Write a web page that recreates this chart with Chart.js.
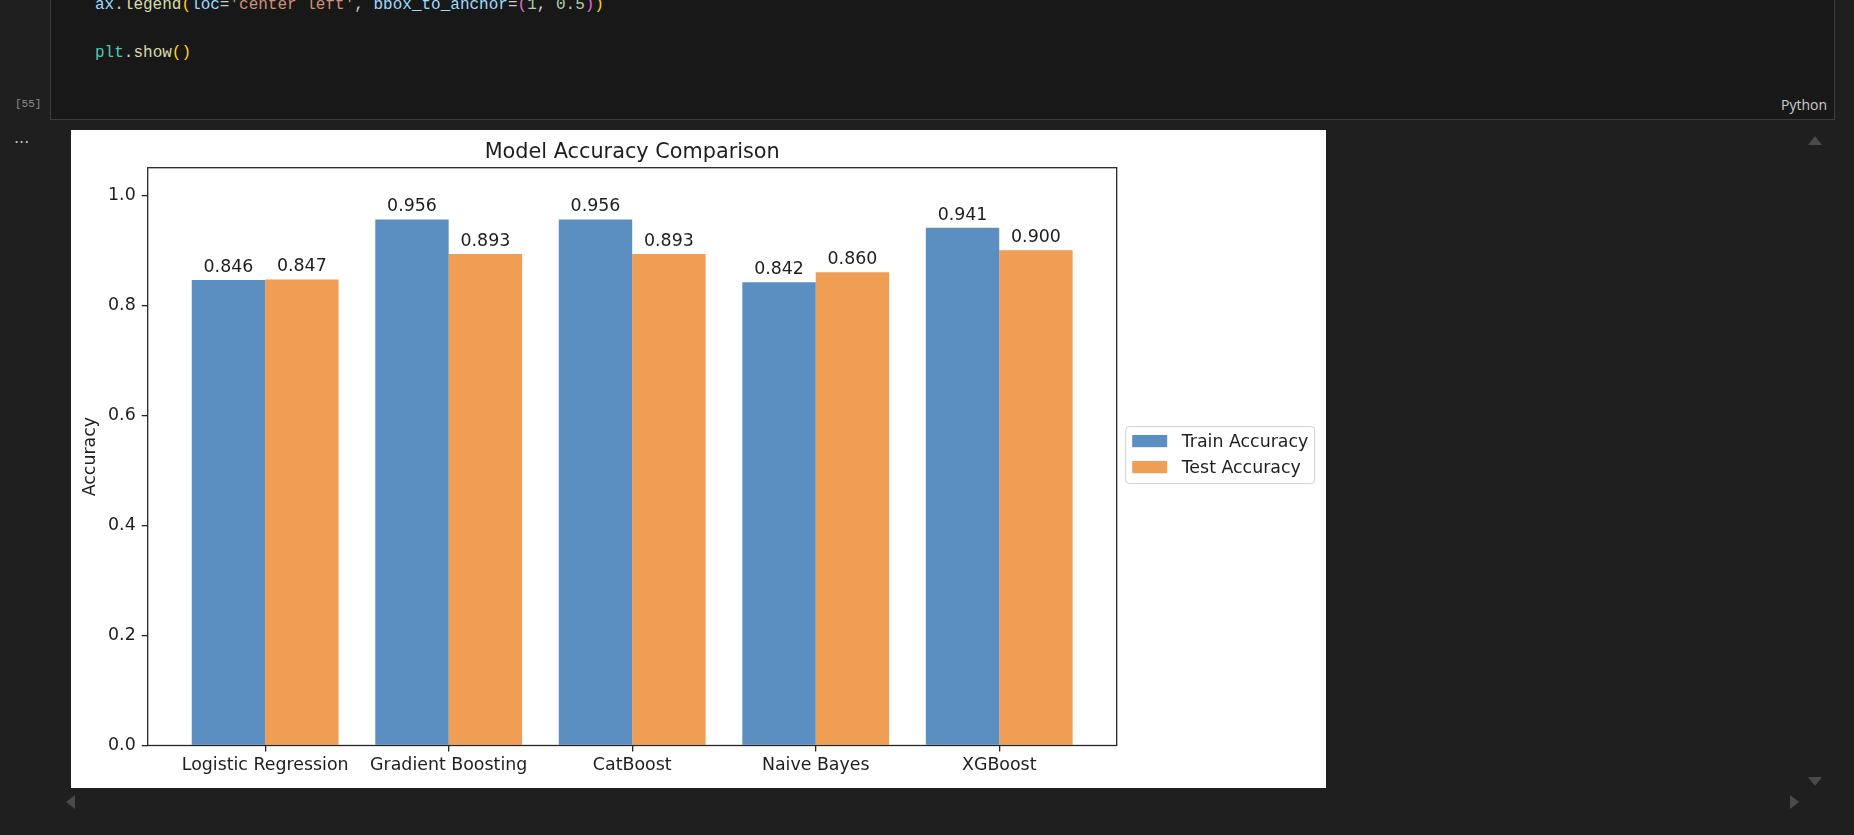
<!DOCTYPE html>
<html>
<head>
<meta charset="utf-8">
<script src="https://cdn.jsdelivr.net/npm/chart.js@4/dist/chart.umd.min.js"></script>
<style>
  html, body { margin: 0; padding: 0; }
  body { width: 1854px; height: 835px; background: #1f1f1f; position: relative; overflow: hidden; font-family: "DejaVu Sans", sans-serif; }
  .cell { position: absolute; left: 50px; top: -30px; width: 1783px; height: 148px; background: #181818; border: 1px solid #3b3b40; }
  .code { position: absolute; left: 95px; top: -7px; font: 16px "Liberation Mono", "DejaVu Sans Mono", monospace; line-height: 24px; white-space: pre; color: #cccccc; }
  .v { color: #9cdcfe; } .f { color: #dcdcaa; } .s { color: #ce9178; } .n { color: #b5cea8; }
  .m { color: #4ec9b0; } .b1 { color: #ffd700; } .b2 { color: #da70d6; }
  .count { position: absolute; left: 15px; top: 98px; font: 11px "Liberation Mono", monospace; color: #8c8c8c; }
  .dots { position: absolute; left: 14px; top: 128px; font: 16px "DejaVu Sans", sans-serif; color: #c5c5c5; }
  .lang { position: absolute; right: 27px; top: 95px; font: 14px "Open Sans", sans-serif; color: #cccccc; }
  .out { position: absolute; left: 71px; top: 130px; width: 1255px; height: 658px; background: #ffffff; }
  .tri { position: absolute; width: 0; height: 0; }
  .up { left: 1808px; top: 136px; border-left: 7px solid transparent; border-right: 7px solid transparent; border-bottom: 9px solid #4a4a4a; }
  .down { left: 1808px; top: 777px; border-left: 7px solid transparent; border-right: 7px solid transparent; border-top: 9px solid #4a4a4a; }
  .left { left: 66px; top: 795px; border-top: 7px solid transparent; border-bottom: 7px solid transparent; border-right: 9px solid #4a4a4a; }
  .right { left: 1790px; top: 795px; border-top: 7px solid transparent; border-bottom: 7px solid transparent; border-left: 9px solid #4a4a4a; }
</style>
</head>
<body>
<div class="cell"></div>
<div class="code"><span class="v">ax</span>.<span class="f">legend</span><span class="b1">(</span><span class="v">loc</span>=<span class="s">'center left'</span>, <span class="v">bbox_to_anchor</span>=<span class="b2">(</span><span class="n">1</span>, <span class="n">0.5</span><span class="b2">)</span><span class="b1">)</span>

<span class="m">plt</span>.<span class="f">show</span><span class="b1">()</span></div>
<div class="count">[55]</div>
<div class="dots">...</div>
<div class="lang">Python</div>
<div class="out"><canvas id="chart"></canvas></div>
<div class="tri up"></div>
<div class="tri down"></div>
<div class="tri left"></div>
<div class="tri right"></div>

<script>
const models = ['Logistic Regression', 'Gradient Boosting', 'CatBoost', 'Naive Bayes', 'XGBoost'];
const trainAcc = [0.846, 0.956, 0.956, 0.842, 0.941];
const testAcc = [0.847, 0.893, 0.893, 0.860, 0.900];
const yTicks = [0, 0.2, 0.4, 0.6, 0.8, 1.0];
const seriesNames = ['Train Accuracy', 'Test Accuracy'];
const chartTitle = 'Model Accuracy Comparison';

const BLUE = '#5b8fc2';
const ORANGE = '#f09e53';
const TEXT = '#1e1e1e';
const AXIS = '#262626';
const FONT = '"DejaVu Sans", sans-serif';

// matplotlib-like extras: value labels, frame, title, legend
const mplExtras = {
    id: 'mplExtras',
    afterDatasetsDraw(chart) {
        const { ctx, chartArea: a } = chart;
        ctx.save();

        ctx.font = `17.4px ${FONT}`;
        ctx.fillStyle = TEXT;
        ctx.textAlign = 'center';
        ctx.textBaseline = 'alphabetic';
        chart.data.datasets.forEach((ds, i) => {
            chart.getDatasetMeta(i).data.forEach((bar, j) => {
                ctx.fillText(ds.data[j].y.toFixed(3), bar.x, bar.y - 8);
            });
        });

        ctx.strokeStyle = AXIS;
        ctx.lineWidth = 1.3;
        ctx.strokeRect(a.left, a.top, a.right - a.left, a.bottom - a.top);

        ctx.font = `20.8px ${FONT}`;
        ctx.fillText(chartTitle, (a.left + a.right) / 2, 27.5);

        // legend to the right, centred on the axes
        const midY = (a.top + a.bottom) / 2;
        const boxX = a.right + 9, boxW = 189, boxH = 57;
        const boxY = midY - boxH / 2 - 1.5;
        ctx.beginPath();
        ctx.roundRect(boxX, boxY, boxW, boxH, 3.5);
        ctx.fillStyle = 'rgba(255,255,255,0.8)';
        ctx.fill();
        ctx.strokeStyle = '#d0d0d0';
        ctx.lineWidth = 1;
        ctx.stroke();

        ctx.font = `17.4px ${FONT}`;
        ctx.textAlign = 'left';
        chart.data.datasets.forEach((ds, i) => {
            const cy = boxY + 14.5 + i * 26;
            ctx.fillStyle = ds.backgroundColor;
            ctx.fillRect(boxX + 6.5, cy - 6.1, 35, 12.2);
            ctx.fillStyle = TEXT;
            ctx.fillText(ds.label, boxX + 56, cy + 6.3);
        });

        ctx.restore();
    }
};

const chart = new Chart(document.getElementById('chart'), {
    type: 'bar',
    data: {
        datasets: [
            { label: seriesNames[0], data: trainAcc.map((v, i) => ({ x: i, y: v })), backgroundColor: BLUE, borderWidth: 0 },
            { label: seriesNames[1], data: testAcc.map((v, i) => ({ x: i, y: v })), backgroundColor: ORANGE, borderWidth: 0 }
        ]
    },
    options: {
        responsive: true,
        maintainAspectRatio: false,
        animation: false,
        layout: { padding: { top: 37.7, right: 209.3, left: 0, bottom: 0 } },
        plugins: {
            legend: { display: false },
            title: { display: false },
            tooltip: { enabled: false }
        },
        datasets: { bar: { categoryPercentage: 0.8, barPercentage: 1.0 } },
        scales: {
            x: {
                type: 'linear',
                min: -0.64,
                max: 4.64,
                offset: false,
                border: { display: false },
                grid: { offset: false, drawOnChartArea: false, drawTicks: true, tickLength: 6, color: AXIS, lineWidth: 1.3 },
                afterBuildTicks: (scale) => { scale.ticks = models.map((_, i) => ({ value: i })); },
                afterFit: (scale) => { scale.height = 42.5; },
                ticks: {
                    autoSkip: false,
                    maxRotation: 0,
                    padding: 4,
                    color: TEXT,
                    font: { family: FONT, size: 17.4 },
                    callback: (v) => models[v]
                }
            },
            y: {
                min: 0,
                max: 1.05,
                border: { display: false },
                grid: { drawOnChartArea: false, drawTicks: true, tickLength: 6, color: AXIS, lineWidth: 1.3 },
                afterBuildTicks: (scale) => { scale.ticks = yTicks.map(v => ({ value: v })); },
                afterFit: (scale) => { scale.width = 76.7; },
                ticks: {
                    padding: 6,
                    color: TEXT,
                    font: { family: FONT, size: 17.4 },
                    callback: (v) => Number(v).toFixed(1)
                },
                title: {
                    display: true,
                    text: 'Accuracy',
                    color: TEXT,
                    font: { family: FONT, size: 17.4 },
                    padding: { top: 8.6, bottom: 0 }
                }
            }
        }
    },
    plugins: [mplExtras]
});
</script>
</body>
</html>
